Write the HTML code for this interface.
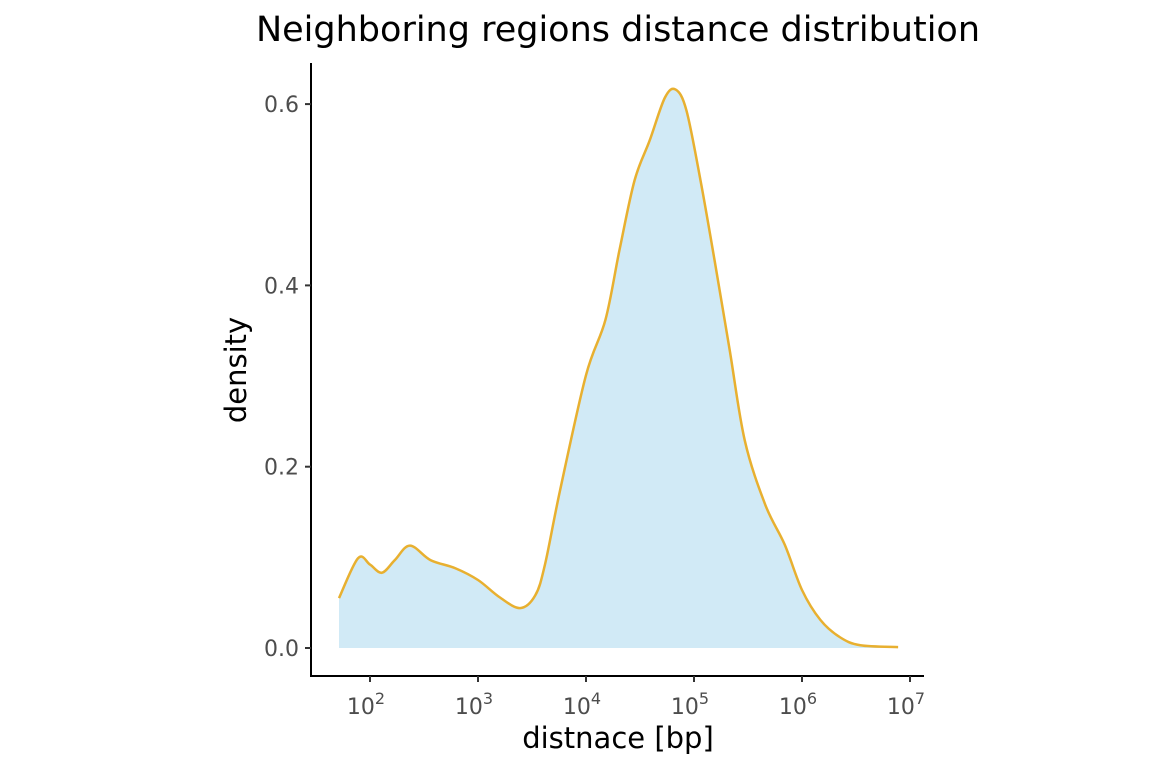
<!DOCTYPE html>
<html><head><meta charset="utf-8">
<style>
html,body{margin:0;padding:0;background:#fff;}
svg{display:block;font-family:"DejaVu Sans","Liberation Sans",sans-serif;}
</style></head>
<body>
<svg id="chart" width="1152" height="768">
<text x="618" y="41" text-anchor="middle" font-size="35" fill="#000">Neighboring regions distance distribution</text>
<g id="plot"></g>
<text x="618" y="748" text-anchor="middle" font-size="29" fill="#000">distnace [bp]</text>
<text transform="translate(246,370) rotate(-90)" text-anchor="middle" font-size="29" fill="#000">density</text>
</svg>
<script>
const logs=[1.713,1.889,2.0,2.11,2.23,2.37,2.56,2.79,3.0,3.2,3.39,3.53,3.62,3.76,4.0,4.18,4.31,4.45,4.59,4.73,4.83,4.93,5.06,5.19,5.33,5.47,5.66,5.84,6.0,6.17,6.35,6.54,6.89];
const dens=[0.055,0.099,0.092,0.083,0.097,0.113,0.097,0.088,0.075,0.056,0.044,0.058,0.092,0.174,0.301,0.362,0.439,0.516,0.560,0.607,0.616,0.593,0.516,0.428,0.329,0.229,0.158,0.114,0.064,0.031,0.012,0.003,0.001];
const xTicks=[2,3,4,5,6,7];
const yTicks=[0,0.2,0.4,0.6];
const yTickLabels=["0.0","0.2","0.4","0.6"];
const NS="http://www.w3.org/2000/svg";
const sx=v=>370+(v-2)*108;
const sy=v=>648-v*906.5;
const g=document.getElementById('plot');
function mk(t,a){const e=document.createElementNS(NS,t);for(const k in a)e.setAttribute(k,a[k]);return e;}
const pts=logs.map((l,i)=>[sx(l),sy(dens[i])]);
let d=`M${pts[0][0]},${pts[0][1]}`;
for(let i=0;i<pts.length-1;i++){
 const p0=pts[Math.max(0,i-1)],p1=pts[i],p2=pts[i+1],p3=pts[Math.min(pts.length-1,i+2)];
 d+=` C${p1[0]+(p2[0]-p0[0])/6},${p1[1]+(p2[1]-p0[1])/6} ${p2[0]-(p3[0]-p1[0])/6},${p2[1]-(p3[1]-p1[1])/6} ${p2[0]},${p2[1]}`;
}
const area=mk('path',{d:d+` L${pts[pts.length-1][0]},${sy(0)} L${pts[0][0]},${sy(0)} Z`,fill:'#d1eaf6',stroke:'none'});


g.appendChild(area);
const line=mk('path',{d:d,fill:'none',stroke:'#e8b030','stroke-width':2.5});


g.appendChild(line);
const ya=mk('line',{x1:311,y1:63,x2:311,y2:676,stroke:'#000','stroke-width':2});


g.appendChild(ya);
const xa=mk('line',{x1:310,y1:676,x2:924,y2:676,stroke:'#000','stroke-width':2});


g.appendChild(xa);
yTicks.forEach((v,i)=>{
 const y=sy(v);
 g.appendChild(mk('line',{x1:305,y1:y,x2:311,y2:y,stroke:'#333','stroke-width':2}));
 const t=mk('text',{x:299,y:y+8,'text-anchor':'end','font-size':22,fill:'#4d4d4d'});
 t.textContent=yTickLabels[i];
 
 
 g.appendChild(t);
});
xTicks.forEach(v=>{
 const x=sx(v);
 g.appendChild(mk('line',{x1:x,y1:676,x2:x,y2:682,stroke:'#333','stroke-width':2}));
 const t=mk('text',{x:x-4,y:714,'text-anchor':'middle','font-size':22,fill:'#4d4d4d'});
 t.textContent='10';
 const s=mk('tspan',{dy:-10,'font-size':16});
 s.textContent=String(v);
 t.appendChild(s);
 
 
 g.appendChild(t);
});
</script>
</body></html>
